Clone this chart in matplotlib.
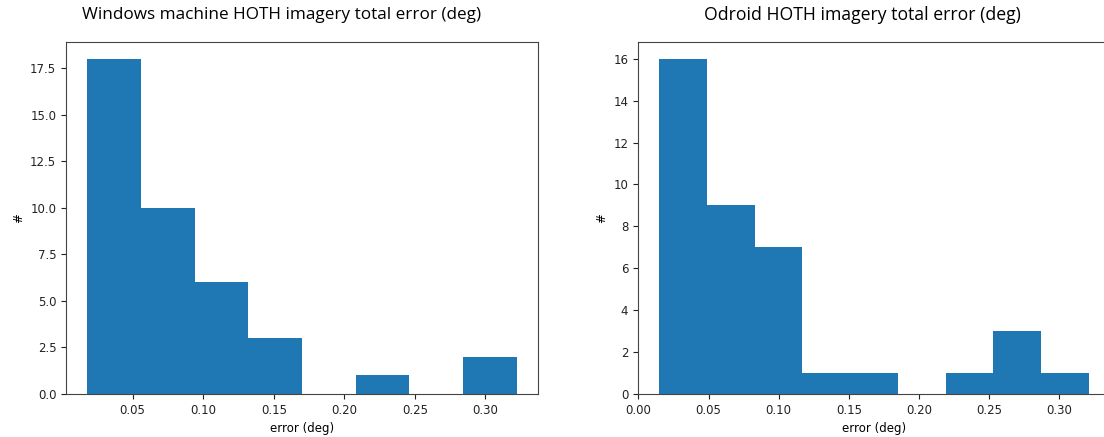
import matplotlib
matplotlib.use("Agg")
import matplotlib.pyplot as plt

# Histogram bin edges and counts
win_edges = [0.018, 0.056, 0.094, 0.132, 0.170, 0.208, 0.246, 0.284, 0.322]
win_counts = [18, 10, 6, 3, 0, 1, 0, 2]

odr_edges = [0.015, 0.049, 0.083, 0.117, 0.151, 0.185, 0.219, 0.253, 0.287, 0.321]
odr_counts = [16, 9, 7, 1, 1, 0, 1, 3, 1]

titles = ['Windows machine HOTH imagery total error (deg)',
          'Odroid HOTH imagery total error (deg)']

plt.rcParams['font.size'] = 8.5

fig = plt.figure(figsize=(11.04, 4.37), dpi=100)
W, H = 1104, 437
ax1 = fig.add_axes([66 / W, 43 / H, 472 / W, 352 / H])
# right panel runs past the edge of the picture (cropped in the reference)
ax2 = fig.add_axes([638 / W, 43 / H, 472 / W, 352 / H])
ax2.spines['right'].set_visible(False)

for ax, edges, counts in [(ax1, win_edges, win_counts), (ax2, odr_edges, odr_counts)]:
    ax.hist(edges[:-1], bins=edges, weights=counts, color='#1f77b4')
    ax.set_xlabel('error (deg)')
    ax.set_ylabel('#')
    for s in ax.spines.values():
        s.set_color('#444444')
    ax.tick_params(colors='#222222')

fig.text(282 / W, 1 - 15 / H, titles[0], ha='center', va='center',
         fontsize=12.3, family='Open Sans')
fig.text(862 / W, 1 - 15 / H, titles[1], ha='center', va='center',
         fontsize=12.7, family='Open Sans')

fig.savefig('out.png', dpi=100)
